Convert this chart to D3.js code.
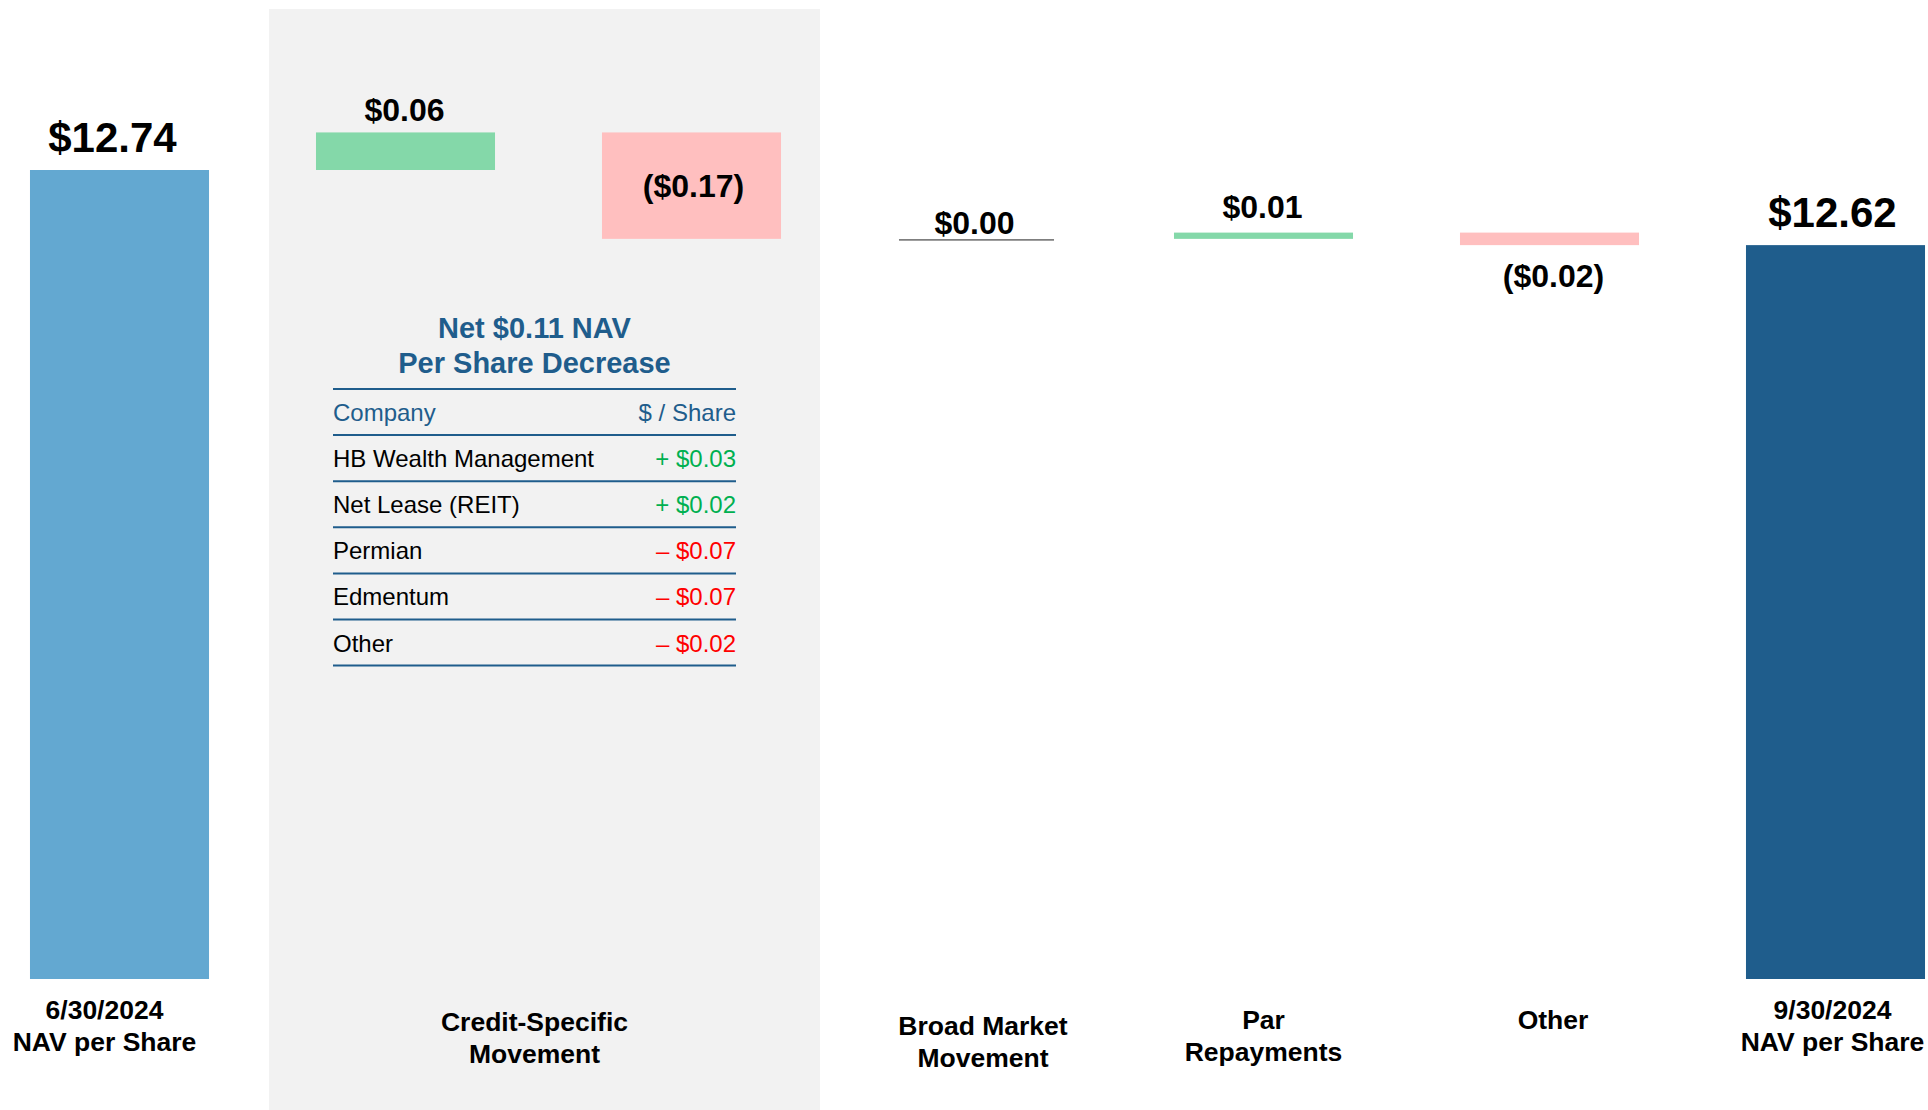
<!DOCTYPE html>
<html><head><meta charset="utf-8">
<script src="https://cdn.jsdelivr.net/npm/d3@7"></script>
<style>
html,body{margin:0;padding:0;background:#fff;}
svg{display:block;}
text{font-family:"Liberation Sans",Arial,Helvetica,sans-serif;}
</style>
</head><body>
<svg id="chart" width="1928" height="1110"></svg>
<script>
// ---- data ----
const barKeys = ["start","creditUp","creditDown","broad","par","other","end"];
const barKinds = ["total","delta","delta","delta","delta","delta","total"];
const barValues = [12.74, 0.06, -0.17, 0.00, 0.01, -0.02, 12.62];
const categoryNames = [["6/30/2024","NAV per Share"],["Credit-Specific","Movement"],["Broad Market","Movement"],["Par","Repayments"],["Other"],["9/30/2024","NAV per Share"]];
const categoryBars = [["start"],["creditUp","creditDown"],["broad"],["par"],["other"],["end"]];
const tableTitle = ["Net $0.11 NAV","Per Share Decrease"];
const tableHeader = ["Company","$ / Share"];
const tableCompanies = ["HB Wealth Management","Net Lease (REIT)","Permian","Edmentum","Other"];
const tableValues = [0.03, 0.02, -0.07, -0.07, -0.02];

// ---- build waterfall ----
let run = 0;
const bars = barKeys.map((k,i)=>{
  const v = barValues[i], kind = barKinds[i];
  let lo, hi;
  if (kind === "total") { lo = null; hi = v; run = v; }
  else { const a = run, b = run + v; lo = Math.min(a,b); hi = Math.max(a,b); run = b; }
  return {key:k, value:v, kind, lo, hi, idx:i};
});

const svg = d3.select("#chart");
const W = 1928, H = 1110;

const x = d3.scaleBand().domain(barKeys).range([-23.5, 1978.5]).paddingInner(0.374).paddingOuter(0.187);
const y = d3.scaleLinear().domain([11.4477, 12.74]).range([979, 170]);
const baseY = y.range()[0];
const bw = x.bandwidth();

const colors = {start:"#63A8D1", end:"#1F5D8C", up:"#84D8A9", down:"#FFBFBF"};
const fmt = v => v < 0 ? `($${Math.abs(v).toFixed(2)})` : `$${v.toFixed(2)}`;

// ---- credit-specific panel ----
const panelX0 = x("creditUp") - 47, panelX1 = x("creditDown") + bw + 39;
svg.append("rect").attr("x", panelX0).attr("y", 9).attr("width", panelX1 - panelX0).attr("height", H - 9).attr("fill", "#F2F2F2");
const panelCx = (panelX0 + panelX1) / 2 - 10;

// ---- bars ----
bars.forEach(d=>{
  const x0 = x(d.key);
  if (d.kind === "total") {
    svg.append("rect").attr("x", x0).attr("y", y(d.hi)).attr("width", bw).attr("height", baseY - y(d.hi))
      .attr("fill", d.key === "start" ? colors.start : colors.end);
  } else if (d.value === 0) {
    svg.append("line").attr("x1", x0 + 11).attr("x2", x0 + bw - 13).attr("y1", y(d.hi) + 1).attr("y2", y(d.hi) + 1)
      .attr("stroke", "#7F7F7F").attr("stroke-width", 1.6);
  } else {
    svg.append("rect").attr("x", x0).attr("y", y(d.hi)).attr("width", bw).attr("height", y(d.lo) - y(d.hi))
      .attr("fill", d.value > 0 ? colors.up : colors.down);
  }
});

// ---- value labels ----
const labelPlace = {start:{dx:-7,dy:-18}, creditUp:{dx:-1,dy:-11}, creditDown:{dx:2,dy:"mid"}, broad:{dx:-3,dy:-5}, par:{dx:-1,dy:-15}, other:{dx:4,dy:"below"}, end:{dx:-3,dy:-18}};
bars.forEach(d=>{
  const p = labelPlace[d.key];
  const cx = x(d.key) + bw/2 + p.dx;
  let by;
  if (p.dy === "mid") by = (y(d.hi) + y(d.lo)) / 2 + 11;
  else if (p.dy === "below") by = y(d.lo) + 42;
  else by = y(d.hi) + p.dy;
  svg.append("text").attr("x", cx).attr("y", by).attr("text-anchor", "middle")
    .attr("font-weight", "bold").attr("font-size", d.kind === "total" ? 42 : 32).attr("fill", "#000")
    .text(fmt(d.value));
});

// ---- category labels ----
const catPlace = [{dx:-15,y:1019},{dx:null,y:1031},{dx:5.5,y:1035},{dx:0,y:1029},{dx:3.5,y:1029},{dx:-3,y:1019}];
categoryNames.forEach((lines,i)=>{
  const keys = categoryBars[i];
  let cx;
  if (catPlace[i].dx === null) cx = panelCx;
  else cx = d3.mean(keys, k => x(k) + bw/2) + catPlace[i].dx;
  const t = svg.append("text").attr("text-anchor","middle").attr("font-weight","bold").attr("font-size",26.5).attr("fill","#000");
  lines.forEach((ln,j)=>{
    t.append("tspan").attr("x", cx).attr("y", catPlace[i].y + j*31.5).text(ln);
  });
});

// ---- table ----
const blue = "#1F5D8C";
const tX0 = 333, tX1 = 736;
const tcx = (tX0 + tX1)/2;
tableTitle.forEach((s,i)=>{
  svg.append("text").attr("x", tcx).attr("y", 338 + i*35).attr("text-anchor","middle")
    .attr("font-weight","bold").attr("font-size",29).attr("fill", blue).text(s);
});
const rowH = 46.1, line0 = 389;
for (let i = 0; i <= tableCompanies.length + 1; i++) {
  svg.append("line").attr("x1", tX0).attr("x2", tX1).attr("y1", line0 + i*rowH).attr("y2", line0 + i*rowH)
    .attr("stroke", blue).attr("stroke-width", 2);
}
svg.append("text").attr("x", tX0).attr("y", line0 + 32).attr("font-size",24).attr("fill", blue).text(tableHeader[0]);
svg.append("text").attr("x", tX1).attr("y", line0 + 32).attr("text-anchor","end").attr("font-size",24).attr("fill", blue).text(tableHeader[1]);
tableCompanies.forEach((c,i)=>{
  const by = line0 + (i+1)*rowH + 32;
  svg.append("text").attr("x", tX0).attr("y", by).attr("font-size",24).attr("fill","#000").text(c);
  const v = tableValues[i];
  svg.append("text").attr("x", tX1).attr("y", by).attr("text-anchor","end").attr("font-size",24)
    .attr("fill", v >= 0 ? "#00B050" : "#FF0000")
    .text((v >= 0 ? "+ " : "\u2013 ") + "$" + Math.abs(v).toFixed(2));
});
</script>
</body></html>
